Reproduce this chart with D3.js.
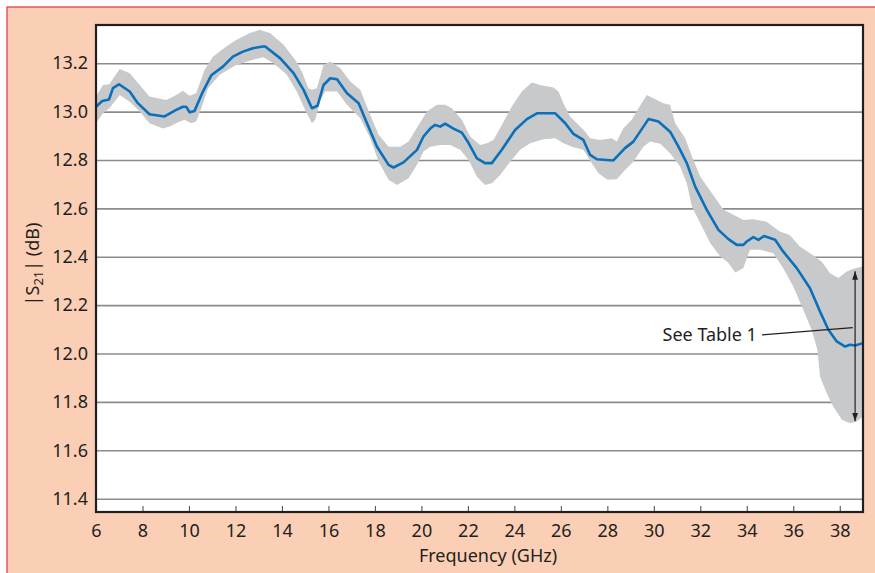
<!DOCTYPE html>
<html lang="en">
<head>
  <meta charset="UTF-8">
  <title>S21 vs Frequency</title>
  <style>
    body, html {
      margin: 0;
      padding: 0;
      background: #fff;
    }
    svg text {
      font-family: "Noto Sans", "Open Sans", sans-serif;
      fill: #231f20;
    }
  </style>
</head>
<body>
  <svg id="svg" width="875" height="573"></svg>

  <script src="https://cdn.jsdelivr.net/npm/d3@7"></script>
  <script>
    // mean |S21| curve
    const meanFreq = [6.0, 6.27, 6.56, 6.73, 6.99, 7.45, 7.8, 8.3, 8.95, 9.45, 9.74, 9.88, 10.03, 10.24, 10.6, 10.96,
      11.46, 11.89, 12.32, 12.75, 13.18, 13.28, 13.93, 14.5, 14.93, 15.29, 15.53, 15.79, 16.08, 16.37, 16.8, 17.3,
      17.66, 18.09, 18.59, 18.8, 19.23, 19.81, 20.09, 20.38, 20.59, 20.81, 21.02, 21.38, 21.74, 22.03, 22.39, 22.74,
      23.03, 23.46, 24.03, 24.54, 24.97, 25.76, 26.19, 26.54, 26.97, 27.26, 27.55, 28.26, 28.76, 29.12, 29.77, 30.2,
      30.7, 31.06, 31.42, 31.78, 32.28, 32.78, 33.21, 33.57, 33.85, 34.0, 34.28, 34.5, 34.74, 35.22, 35.57, 36.15,
      36.72, 37.15, 37.51, 37.87, 38.23, 38.44, 38.66, 39.0]
    const meanVal = [13.02, 13.044, 13.05, 13.097, 13.113, 13.083, 13.035, 12.989, 12.98, 13.007, 13.02, 13.02, 12.997, 13.003, 13.083, 13.15,
      13.186, 13.227, 13.248, 13.262, 13.269, 13.269, 13.22, 13.159, 13.09, 13.014, 13.024, 13.11, 13.138, 13.134, 13.076, 13.035,
      12.952, 12.855, 12.78, 12.769, 12.79, 12.842, 12.897, 12.93, 12.945, 12.938, 12.95, 12.93, 12.913, 12.87, 12.807, 12.787,
      12.787, 12.842, 12.924, 12.969, 12.993, 12.993, 12.952, 12.908, 12.883, 12.821, 12.803, 12.798, 12.849, 12.876, 12.969, 12.959,
      12.917, 12.855, 12.787, 12.69, 12.594, 12.511, 12.473, 12.449, 12.449, 12.463, 12.481, 12.47, 12.486, 12.47, 12.421, 12.353,
      12.27, 12.174, 12.098, 12.05, 12.029, 12.036, 12.033, 12.043]

    // upper edge of the spread band
    const upperFreq = [6.0, 6.3, 6.57, 7.02, 7.45, 7.88, 8.3, 9.02, 9.45, 9.74, 10.03, 10.31, 10.67, 11.03, 11.6, 12.03,
      12.6, 13.04, 13.5, 14.07, 14.57, 14.86, 15.14, 15.29, 15.5, 15.79, 16.08, 16.51, 16.94, 17.37, 17.8, 18.16,
      18.59, 19.09, 19.45, 19.88, 20.24, 20.67, 21.02, 21.31, 21.74, 22.1, 22.53, 22.82, 23.1, 23.46, 23.89, 24.32,
      24.75, 25.11, 25.68, 25.9, 26.11, 26.4, 26.69, 27.05, 27.26, 27.69, 28.19, 28.41, 28.69, 29.05, 29.34, 29.7,
      29.98, 30.41, 30.7, 30.92, 31.35, 31.64, 32.0, 32.5, 33.0, 33.57, 33.85, 34.28, 34.85, 35.42, 35.85, 36.28,
      36.72, 37.22, 37.58, 37.94, 38.3, 38.66, 39.0]
    const upperVal = [13.062, 13.11, 13.113, 13.176, 13.159, 13.11, 13.062, 13.048, 13.069, 13.086, 13.066, 13.076, 13.172, 13.227, 13.269, 13.296,
      13.324, 13.338, 13.324, 13.276, 13.214, 13.165, 13.097, 13.09, 13.097, 13.193, 13.207, 13.179, 13.124, 13.09, 12.986, 12.904,
      12.855, 12.855, 12.876, 12.945, 13.0, 13.028, 13.028, 13.014, 12.966, 12.897, 12.862, 12.869, 12.883, 12.945, 13.021, 13.083,
      13.12, 13.11, 13.1, 13.083, 13.035, 12.979, 12.952, 12.917, 12.89, 12.883, 12.89, 12.876, 12.931, 12.966, 13.014, 13.069,
      13.055, 13.035, 13.028, 12.952, 12.89, 12.814, 12.731, 12.663, 12.594, 12.566, 12.552, 12.555, 12.545, 12.504, 12.49, 12.442,
      12.415, 12.38, 12.332, 12.312, 12.339, 12.353, 12.36]

    // lower edge of the spread band
    const lowerFreq = [6.0, 6.3, 6.57, 6.8, 7.02, 7.45, 7.88, 8.3, 8.88, 9.17, 9.53, 9.81, 10.1, 10.31, 10.53, 10.82,
      11.32, 12.03, 12.75, 13.2, 13.64, 14.21, 14.64, 15.0, 15.29, 15.43, 15.65, 15.86, 16.37, 16.8, 17.37, 17.8,
      18.16, 18.59, 18.95, 19.45, 19.81, 20.09, 20.38, 20.81, 21.24, 21.67, 22.03, 22.39, 22.74, 23.03, 23.39, 23.82,
      24.25, 24.68, 25.25, 25.76, 26.11, 26.54, 26.97, 27.33, 27.62, 28.0, 28.41, 28.76, 29.12, 29.55, 29.84, 30.27,
      30.7, 31.13, 31.42, 31.64, 32.0, 32.43, 32.86, 33.21, 33.5, 33.85, 34.0, 34.14, 34.57, 35.14, 35.57, 36.0,
      36.43, 36.79, 37.04, 37.15, 37.44, 37.72, 38.09, 38.44, 38.73, 39.0]
    const lowerVal = [12.952, 12.993, 13.014, 13.041, 13.069, 13.041, 13.0, 12.952, 12.93, 12.938, 12.956, 12.966, 12.952, 12.959, 13.014, 13.097,
      13.152, 13.193, 13.214, 13.225, 13.2, 13.152, 13.083, 13.007, 12.952, 12.966, 13.048, 13.083, 13.083, 13.028, 12.973, 12.89,
      12.793, 12.718, 12.697, 12.725, 12.78, 12.835, 12.855, 12.862, 12.862, 12.842, 12.8, 12.731, 12.697, 12.704, 12.738, 12.793,
      12.842, 12.869, 12.886, 12.89, 12.869, 12.853, 12.842, 12.787, 12.745, 12.718, 12.72, 12.759, 12.793, 12.855, 12.876, 12.867,
      12.828, 12.773, 12.704, 12.607, 12.539, 12.456, 12.401, 12.374, 12.335, 12.353, 12.394, 12.429, 12.429, 12.415, 12.353, 12.277,
      12.181, 12.098, 12.015, 11.905, 11.836, 11.781, 11.726, 11.712, 11.719, 11.74]

    const xTicks = [6, 8, 10, 12, 14, 16, 18, 20, 22, 24, 26, 28, 30, 32, 34, 36, 38]
    const yTicks = [11.4, 11.6, 11.8, 12.0, 12.2, 12.4, 12.6, 12.8, 13.0, 13.2]

    // "See Table 1" callout: arrow span and leader line, in data units
    const calloutArrow = { f: 38.66, top: 12.34, bottom: 11.72 }
    const calloutLeader = { f0: 34.65, v0: 12.077, f1: 38.56, v1: 12.107 }

    const width = 875
    const height = 573
    const plot = { left: 96, right: 863, top: 25, bottom: 512 }
    const fontSize = 18

    const x = d3.scaleLinear().domain([6, 39]).range([plot.left, plot.right])
    const y = d3.scaleLinear().domain([11.345, 13.358]).range([plot.bottom, plot.top])

    const svg = d3.select('#svg')

    // page background with the red edge
    svg.append('rect').attr('width', width).attr('height', height).attr('fill', '#fff')
    svg.append('rect')
      .attr('x', 7).attr('y', 7)
      .attr('width', width).attr('height', height)
      .attr('fill', '#fbcfb5')
      .attr('stroke', '#e05a5f')
      .attr('stroke-width', 1.5)

    svg.append('rect')
      .attr('x', plot.left).attr('y', plot.top)
      .attr('width', plot.right - plot.left)
      .attr('height', plot.bottom - plot.top)
      .attr('fill', '#fff')

    // horizontal grid
    svg.append('g')
      .attr('transform', `translate(${plot.left},0)`)
      .call(d3.axisLeft(y).tickValues(yTicks).tickSize(-(plot.right - plot.left)).tickFormat(''))
      .call(g => g.select('.domain').remove())
      .call(g => g.selectAll('line').attr('stroke', '#8c8c8c').attr('stroke-width', 1.6))

    svg.append('clipPath').attr('id', 'clip')
      .append('rect')
      .attr('x', plot.left).attr('y', plot.top)
      .attr('width', plot.right - plot.left)
      .attr('height', plot.bottom - plot.top)

    const marks = svg.append('g').attr('clip-path', 'url(#clip)')

    // band: upper edge forward, lower edge back
    const upperPts = upperFreq.map((f, i) => [f, upperVal[i]])
    const lowerPts = lowerFreq.map((f, i) => [f, lowerVal[i]]).reverse()
    const line = d3.line().x(d => x(d[0])).y(d => y(d[1]))

    marks.append('path')
      .attr('d', line(upperPts.concat(lowerPts)) + 'Z')
      .attr('fill', '#c8c9cb')

    const meanPts = meanFreq.map((f, i) => [f, meanVal[i]])
    marks.append('path')
      .attr('d', line(meanPts))
      .attr('fill', 'none')
      .attr('stroke', '#0a70ba')
      .attr('stroke-width', 2.6)
      .attr('stroke-linejoin', 'round')

    // callout
    svg.append('defs').append('marker')
      .attr('id', 'arr')
      .attr('viewBox', '0 0 10 10')
      .attr('refX', 10).attr('refY', 5)
      .attr('markerWidth', 7).attr('markerHeight', 7)
      .attr('orient', 'auto-start-reverse')
      .append('path')
      .attr('d', 'M0,1.5 L10,5 L0,8.5 Z')
      .attr('fill', '#231f20')

    svg.append('line')
      .attr('x1', x(calloutArrow.f)).attr('x2', x(calloutArrow.f))
      .attr('y1', y(calloutArrow.top)).attr('y2', y(calloutArrow.bottom))
      .attr('stroke', '#231f20')
      .attr('stroke-width', 1.2)
      .attr('marker-start', 'url(#arr)')
      .attr('marker-end', 'url(#arr)')

    svg.append('line')
      .attr('x1', x(calloutLeader.f0)).attr('y1', y(calloutLeader.v0))
      .attr('x2', x(calloutLeader.f1)).attr('y2', y(calloutLeader.v1))
      .attr('stroke', '#231f20')
      .attr('stroke-width', 1.1)

    svg.append('text')
      .attr('x', x(calloutLeader.f0) - 5)
      .attr('y', y(calloutLeader.v0) + 6)
      .attr('text-anchor', 'end')
      .attr('font-size', fontSize)
      .text('See Table 1')

    // x axis
    svg.append('g')
      .attr('transform', `translate(0,${plot.bottom})`)
      .call(d3.axisBottom(x).tickValues(xTicks).tickSizeInner(-6).tickSizeOuter(0).tickPadding(12))
      .call(g => g.select('.domain').remove())
      .call(g => g.selectAll('line').attr('stroke', '#555').attr('stroke-width', 1.1))
      .call(g => g.selectAll('text').attr('font-size', fontSize).attr('fill', '#231f20'))

    // y axis labels
    svg.append('g')
      .attr('transform', `translate(${plot.left},0)`)
      .call(d3.axisLeft(y).tickValues(yTicks).tickSize(0).tickPadding(8).tickFormat(d3.format('.1f')))
      .call(g => g.select('.domain').remove())
      .call(g => g.selectAll('text').attr('font-size', fontSize).attr('fill', '#231f20'))

    // frame
    svg.append('rect')
      .attr('x', plot.left).attr('y', plot.top)
      .attr('width', plot.right - plot.left)
      .attr('height', plot.bottom - plot.top)
      .attr('fill', 'none')
      .attr('stroke', '#231f20')
      .attr('stroke-width', 2.2)

    svg.append('text')
      .attr('x', 488)
      .attr('y', 562)
      .attr('text-anchor', 'middle')
      .attr('font-size', fontSize)
      .text('Frequency (GHz)')

    const yl = svg.append('text')
      .attr('transform', 'translate(39,264) rotate(-90)')
      .attr('text-anchor', 'middle')
      .attr('font-size', fontSize)
    yl.append('tspan').text('|S')
    yl.append('tspan').attr('font-size', 13).attr('dy', 4).text('21')
    yl.append('tspan').attr('dy', -4).text('| (dB)')
  </script>
</body>
</html>
